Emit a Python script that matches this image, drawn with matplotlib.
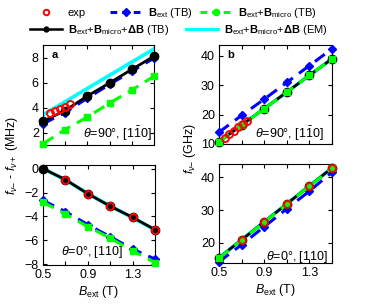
import matplotlib
matplotlib.use("Agg")
import matplotlib.pyplot as plt
from matplotlib.lines import Line2D

plt.rcParams['font.family'] = ['Liberation Sans', 'DejaVu Sans']
plt.rcParams['mathtext.fontset'] = 'custom'
plt.rcParams['mathtext.rm'] = 'Liberation Sans'
plt.rcParams['mathtext.it'] = 'Liberation Sans:italic'
plt.rcParams['mathtext.bf'] = 'Liberation Sans:bold'

# ---------------- data ----------------
B = [0.5, 0.7, 0.9, 1.1, 1.3, 1.5]

# panel a, theta = 90 deg (MHz)
a90_exp_x = [0.563, 0.608, 0.653, 0.695, 0.740]
a90_exp_y = [3.56, 3.74, 3.90, 4.08, 4.27]
a90_ext = [2.70, 3.60, 4.75, 5.85, 6.90, 7.95]
a90_micro = [1.10, 2.24, 3.24, 4.35, 5.40, 6.50]
a90_tb = [2.89, 3.76, 4.92, 5.97, 7.05, 8.10]
a90_em = [3.42, 4.47, 5.53, 6.58, 7.64, 8.69]

# panel a, theta = 0 deg (MHz)
a0_exp_x = [0.7, 0.9, 1.1, 1.3, 1.5]
a0_exp_y = [-0.92, -2.08, -3.12, -4.07, -5.12]
a0_ext = [-2.66, -3.59, -4.68, -5.69, -6.72, -7.56]
a0_micro = [-2.80, -3.78, -4.85, -5.80, -6.87, -7.85]
a0_tb = [0.0, -0.92, -2.10, -3.14, -4.07, -5.10]
a0_em = [0.0, -0.95, -2.08, -3.12, -4.10, -5.12]

# panel b, theta = 90 deg (GHz)
b90_exp_x = [0.55, 0.59, 0.63, 0.67, 0.71, 0.75]
b90_exp_y = [12.2, 13.4, 14.5, 15.6, 16.8, 17.8]
b90_ext = [14.0, 19.7, 25.2, 30.9, 36.6, 42.3]
b90_micro = [10.8, 16.4, 22.0, 27.6, 33.3, 38.9]
b90_tb = [10.8, 16.4, 22.0, 27.6, 33.3, 38.9]
b90_em = [10.8, 16.4, 22.0, 27.6, 33.3, 38.9]

# panel b, theta = 0 deg (GHz)
b0_exp_x = [0.7, 0.9, 1.1, 1.3, 1.5]
b0_exp_y = [20.8, 26.4, 31.8, 37.4, 43.0]
b0_ext = [14.2, 19.4, 24.9, 30.4, 35.8, 41.6]
b0_micro = [15.3, 20.8, 26.3, 31.8, 37.3, 42.8]
b0_tb = [15.4, 20.9, 26.4, 31.9, 37.4, 42.9]
b0_em = [15.4, 20.9, 26.4, 31.9, 37.4, 42.9]

xticks = [0.5, 0.7, 0.9, 1.1, 1.3, 1.5]
xticklabels = ['0.5', '', '0.9', '', '1.3', '']

W, H = 366, 304
fig = plt.figure(figsize=(W / 100, H / 100), dpi=100)


def rect(l, r, t, b):
    return [l / W, 1 - b / H, (r - l) / W, (b - t) / H]


BLUE = (0, 0, 1)
GREEN = (0, 1, 0)
CYAN = (0, 1, 1)
RED = (1, 0, 0)


def draw(ax, ext, micro, tb, em, ex, ey):
    ax.plot(B, em, '-', color=CYAN, lw=2.6, zorder=2)
    ax.plot(B, ext, '--', color=BLUE, lw=2.2, dashes=(4, 2.5), marker='D',
            ms=4.5, mfc=BLUE, mec=BLUE, zorder=3, clip_on=False)
    ax.plot(B, tb, '-', color='k', lw=2.0, marker='o', ms=6, mfc='k',
            mec='k', zorder=4, clip_on=False)
    ax.plot(B, micro, '--', color=GREEN, lw=2.2, dashes=(4, 2.5), marker='s',
            ms=5, mfc=GREEN, mec=GREEN, zorder=5, clip_on=False)
    ax.plot(ex, ey, 'o', color=RED, ms=5, mfc='none', mew=1.4, zorder=6,
            clip_on=False)
    ax.set_xlim(0.5, 1.5)
    ax.set_xticks(xticks)
    ax.set_xticklabels(xticklabels)
    ax.tick_params(direction='in', top=True, right=True, length=3,
                   labelsize=9, width=0.8, pad=3)
    for s in ax.spines.values():
        s.set_linewidth(0.8)


ax1 = fig.add_axes(rect(43, 154, 45, 145))
draw(ax1, a90_ext, a90_micro, a90_tb, a90_em, a90_exp_x, a90_exp_y)
ax1.set_ylim(1, 9)
ax1.set_yticks([2, 4, 6, 8])
ax1.set_xticklabels([])
ax1.text(0.075, 0.9, 'a', transform=ax1.transAxes, fontsize=8,
         fontweight='bold', va='center', ha='left')
ax1.text(0.98, 0.11, r'$\theta$=90°, [1$\bar{1}$0]', transform=ax1.transAxes,
         fontsize=9, ha='right', va='center')

ax2 = fig.add_axes(rect(43, 155, 165, 265))
draw(ax2, a0_ext, a0_micro, a0_tb, a0_em, a0_exp_x, a0_exp_y)
ax2.set_ylim(-8.05, 0.3)
ax2.set_yticks([0, -2, -4, -6, -8])
ax2.text(0.44, 0.13, r'$\theta$=0°, [110]', transform=ax2.transAxes,
         fontsize=9, ha='center', va='center')
ax2.set_xlabel(r'$B_{\rm ext}$ (T)', fontsize=9, labelpad=2)

ax3 = fig.add_axes(rect(219, 332, 45, 144))
draw(ax3, b90_ext, b90_micro, b90_tb, b90_em, b90_exp_x, b90_exp_y)
ax3.set_ylim(10, 43.6)
ax3.set_yticks([10, 20, 30, 40])
ax3.set_xticklabels([])
ax3.text(0.075, 0.9, 'b', transform=ax3.transAxes, fontsize=8,
         fontweight='bold', va='center', ha='left')
ax3.text(0.93, 0.1, r'$\theta$=90°, [1$\bar{1}$0]', transform=ax3.transAxes,
         fontsize=9, ha='right', va='center')

ax4 = fig.add_axes(rect(219, 332, 164, 263))
draw(ax4, b0_ext, b0_micro, b0_tb, b0_em, b0_exp_x, b0_exp_y)
ax4.set_ylim(13.8, 44.1)
ax4.set_yticks([20, 30, 40])
ax4.text(0.965, 0.06, r'$\theta$=0°, [110]', transform=ax4.transAxes,
         fontsize=9, ha='right', va='center')
ax4.set_xlabel(r'$B_{\rm ext}$ (T)', fontsize=9, labelpad=2)

fig.text(12 / W, 1 - 155 / H, r'$f_{\nu\mathrm{-}}$ - $f_{\nu+}$ (MHz)',
         rotation=90, fontsize=9, ha='center', va='center')
fig.text(190 / W, 1 - 148 / H, r'$f_{\nu\mathrm{-}}$ (GHz)',
         rotation=90, fontsize=9, ha='center', va='center')

# legend entries placed individually
lab_exp = 'exp'
lab_ext = r'$\mathbf{B}_{\rm ext}$ (TB)'
lab_micro = r'$\mathbf{B}_{\rm ext}$+$\mathbf{B}_{\rm micro}$ (TB)'
lab_tb = r'$\mathbf{B}_{\rm ext}$+$\mathbf{B}_{\rm micro}$+$\mathbf{\Delta B}$ (TB)'
lab_em = r'$\mathbf{B}_{\rm ext}$+$\mathbf{B}_{\rm micro}$+$\mathbf{\Delta B}$ (EM)'

h_exp = Line2D([], [], ls='none', marker='o', color=RED, mfc='none', ms=4,
               mew=1.4)
h_ext = Line2D([], [], ls='--', dashes=(2.2, 1.6), color=BLUE, lw=2.2,
               marker='D', ms=4.5, mfc=BLUE)
h_micro = Line2D([], [], ls='--', dashes=(2.2, 1.6), color=GREEN, lw=2.2,
                 marker='o', ms=4.5, mfc=GREEN)
h_tb = Line2D([], [], ls='-', color='k', lw=1.8, marker='o', ms=3.5, mfc='k')
h_em = Line2D([], [], ls='-', color=CYAN, lw=2.2)

entries = [
    (h_exp, lab_exp, 30, 13),
    (h_ext, lab_ext, 110, 13),
    (h_micro, lab_micro, 200, 13),
    (h_tb, lab_tb, 30, 30),
    (h_em, lab_em, 186, 30),
]
for h, lab, x0, y0 in entries:
    fig.legend(handles=[h], labels=[lab], loc='center left',
               bbox_to_anchor=(x0 / W, 1 - y0 / H), frameon=False,
               borderpad=0, borderaxespad=0, handlelength=2.9,
               handletextpad=0.5, fontsize=8, numpoints=1)

fig.savefig('out.png', dpi=100)
